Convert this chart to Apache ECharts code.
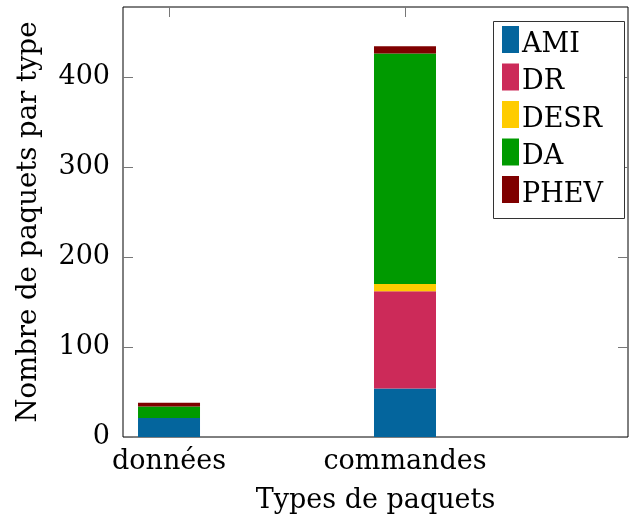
<!DOCTYPE html>
<html>
<head>
<meta charset="utf-8">
<script src="https://cdn.jsdelivr.net/npm/echarts@6/dist/echarts.min.js"></script>
<style>html,body{margin:0;padding:0;background:#fff}#c{width:630px;height:519px}</style>
</head>
<body>
<div id="c"></div>
<script>
const categories = ['données', 'commandes'];
const seriesNames = ['AMI', 'DR', 'DESR', 'DA', 'PHEV'];
const AMI  = [21, 54];
const DR   = [0, 108];
const DESR = [0, 8];
const DA   = [13, 256];
const PHEV = [4, 8];
const yTicks = [0, 100, 200, 300, 400];
const colors = ['#04659d', '#cc2a59', '#ffcc00', '#009a00', '#7f0000'];
const values = [AMI, DR, DESR, DA, PHEV];

const FONT = 'DejaVu Serif';
const TICK = '#777';
const chart = echarts.init(document.getElementById('c'), null, {renderer: 'canvas'});
const catIdx = categories.map((c, i) => i);

const series = seriesNames.map((n, k) => ({
  name: n,
  type: 'bar',
  stack: 'total',
  barWidth: 62,
  xAxisIndex: 0,
  yAxisIndex: 0,
  encode: {x: 1, y: 0},
  itemStyle: {color: colors[k]},
  data: values[k].map((v, i) => [v, i])
}));

chart.setOption({
  animation: false,
  textStyle: {fontFamily: FONT, color: '#000'},
  grid: {left: 123, right: 2, top: 7, bottom: 81, show: true, borderColor: '#000', borderWidth: 1, backgroundColor: 'transparent'},
  graphic: [{
    type: 'rect', z: 1, silent: true,
    shape: {x: 493.5, y: 21.5, width: 131, height: 197},
    style: {fill: '#fff', stroke: 'none'}
  }, {
    type: 'rect', z: 100, silent: true,
    shape: {x: 493.5, y: 21.5, width: 131, height: 197},
    style: {fill: 'none', stroke: '#333', lineWidth: 1}
  }],
  legend: {
    orient: 'vertical',
    left: 502, top: 26,
    data: seriesNames,
    icon: 'rect',
    itemWidth: 17, itemHeight: 27, itemGap: 5.5,
    padding: 0,
    z: 101,
    formatter: name => '{t|' + name + '}',
    textStyle: {fontFamily: FONT, fontSize: 27, color: '#000',
      rich: {t: {fontFamily: FONT, fontSize: 27, color: '#000', padding: [10, 0, 0, -2]}}}
  },
  xAxis: [{
    type: 'value', min: -0.195, max: 1.945,
    position: 'bottom',
    name: 'Types de paquets', nameLocation: 'middle', nameGap: 50,
    nameTextStyle: {fontFamily: FONT, fontSize: 27, color: '#000'},
    axisLine: {show: false, onZero: false},
    splitLine: {show: false},
    axisTick: {show: true, inside: true, length: 10, lineStyle: {color: TICK}, customValues: catIdx},
    axisLabel: {customValues: catIdx, fontFamily: FONT, fontSize: 27, color: '#000', margin: 11,
      formatter: v => categories[Math.round(v)] || ''}
  }, {
    type: 'value', min: -0.195, max: 1.945, position: 'top',
    axisLine: {show: false, onZero: false}, splitLine: {show: false},
    axisTick: {show: true, inside: true, length: 10, lineStyle: {color: TICK}, customValues: catIdx},
    axisLabel: {show: false, customValues: catIdx}
  }],
  yAxis: [{
    type: 'value', min: 0, max: 477.6, position: 'left',
    name: 'Nombre de paquets par type', nameLocation: 'middle', nameGap: 80,
    nameTextStyle: {fontFamily: FONT, fontSize: 27.5, color: '#000'},
    axisLine: {show: false, onZero: false}, splitLine: {show: false},
    axisTick: {show: true, inside: true, length: 10, lineStyle: {color: TICK}, customValues: yTicks},
    axisLabel: {customValues: yTicks, fontFamily: FONT, fontSize: 27, color: '#000', margin: 13}
  }, {
    type: 'value', min: 0, max: 477.6, position: 'right',
    axisLine: {show: false, onZero: false}, splitLine: {show: false},
    axisTick: {show: true, inside: true, length: 10, lineStyle: {color: TICK}, customValues: yTicks},
    axisLabel: {show: false, customValues: yTicks}
  }],
  series: series
});
</script>
</body>
</html>
